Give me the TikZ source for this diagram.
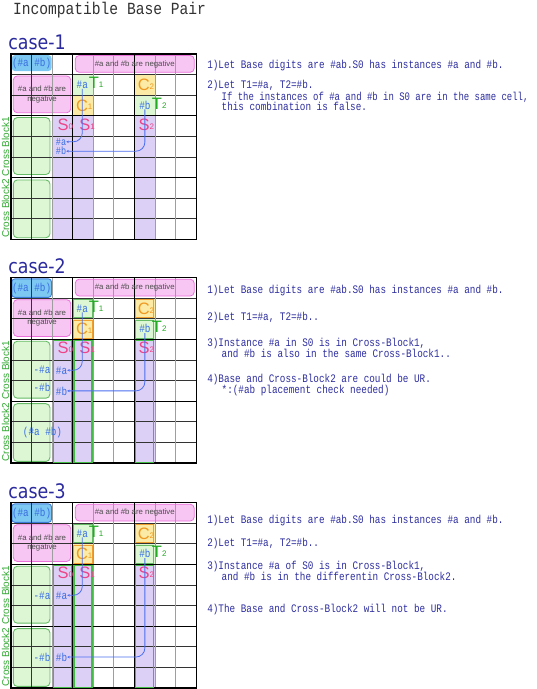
\documentclass[tikz,border=0pt]{standalone}
\usepackage{fontspec}
\usetikzlibrary{arrows.meta,calc}
\newfontfamily\gothic[FakeStretch=0.81]{Liberation Mono}
\newfontfamily\gothicn[FakeStretch=0.78]{Liberation Mono}
\newfontfamily\titlefont[FakeStretch=0.86]{Liberation Mono}
\newfontfamily\casefont[FakeStretch=0.87]{DejaVu Sans}
\newfontfamily\lsans{Liberation Sans}
\definecolor{lav}{HTML}{DCD0F7}
\definecolor{lgreen}{HTML}{DDF7D5}
\definecolor{gborder}{HTML}{66BB66}
\definecolor{colgreen}{HTML}{44BB44}
\definecolor{lyellow}{HTML}{FCEBA6}
\definecolor{oborder}{HTML}{F0A030}
\definecolor{lblue}{HTML}{7CC8F2}
\definecolor{bborder}{HTML}{3D7BD9}
\definecolor{lpink}{HTML}{F7C6F2}
\definecolor{pborder}{HTML}{EC70DC}
\definecolor{scol}{HTML}{EE4488}
\definecolor{ccol}{HTML}{EE9922}
\definecolor{tcol}{HTML}{22AA22}
\definecolor{hashblue}{HTML}{3A6EE0}
\definecolor{txtblue}{HTML}{2E2EA0}
\definecolor{cbgreen}{HTML}{33AA33}
\definecolor{linkblue}{HTML}{4A6EF0}
\definecolor{casecol}{HTML}{2B2B9F}
\def\cs{20.58}
\newcommand\bigsub[2]{#1{\fontsize{8}{8}\selectfont\raisebox{1.2pt}{#2}}}
\tikzset{
  lbl/.style={inner sep=0pt, outer sep=0pt},
  note/.style={lbl, anchor=base west, text=txtblue, font=\gothic\fontsize{11.5}{11.5}\selectfont},
  hash/.style={lbl, text=hashblue, font=\gothic\fontsize{11.5}{11.5}\selectfont},
  hashs/.style={hash, font=\gothic\fontsize{10.5}{10.5}\selectfont},
  big/.style={lbl, font=\lsans\fontsize{16.5}{16.5}\selectfont},
  negbox/.style={draw=pborder, fill=lpink, rounded corners=4pt, line width=0.8pt},
  negtxt/.style={lbl, text=black!70, font=\lsans\fontsize{7.8}{9.7}\selectfont, align=center},
  cbbox/.style={draw=gborder, fill=lgreen, rounded corners=4pt, line width=0.9pt},
  cblbl/.style={lbl, rotate=90, text=cbgreen, font=\lsans\fontsize{10}{10}\selectfont},
  caselbl/.style={lbl, anchor=base west, text=casecol, font=\casefont\fontsize{20}{20}\selectfont},
  hthin/.style={draw=black!80, line width=0.8pt},
  vthin/.style={draw=black!38, line width=1.1pt},
  thickline/.style={draw=black, line width=1.3pt},
  bluebox/.style={fill=lblue, rounded corners=3pt},
  gline/.style={},
  yline/.style={},
  colline/.style={},
  link/.style={draw=linkblue, line width=0.8pt, rounded corners=9pt, -{Stealth[length=2.6pt,width=2.4pt]}},
  bordered/.style={
    gline/.style={draw=gborder, line width=0.9pt},
    yline/.style={draw=oborder, line width=0.9pt},
    colline/.style={draw=colgreen, line width=1.3pt},
    bluebox/.style={fill=lblue, draw=bborder, line width=0.9pt, rounded corners=3pt}}
}
\newcommand\gridcommon[2]{%
  \foreach \k in {2,3,6} \fill[lav] ({\k*\cs},{3*\cs}) rectangle ({(\k+1)*\cs},{9*\cs});
  \fill[lgreen] ({3*\cs},{1*\cs}) rectangle ({4*\cs},{2*\cs});
  \fill[lyellow] ({3*\cs},{2*\cs}) rectangle ({4*\cs},{3*\cs});
  \fill[lyellow] ({6*\cs},{1*\cs}) rectangle ({7*\cs},{2*\cs});
  \fill[lgreen] ({6*\cs},{2*\cs}) rectangle ({7*\cs},{3*\cs});
  \path[bluebox] (0.8,1.2) rectangle (40.5,#2);
  \path[negbox] ({3*\cs+2.5},1.5) rectangle ({9*\cs-2},18.3);
  \path[negbox] (2.3,{\cs+1.4}) rectangle ({3*\cs-2},{3*\cs-3});
  \path[cbbox] (2.3,{3*\cs+1.8}) rectangle ({2*\cs-2.2},{6*\cs-3});
  \path[cbbox] (2.3,{6*\cs+2.5}) rectangle ({2*\cs-2.2},{9*\cs-1.5});
  \foreach \i in {1,2,4,5,7,8} \draw[hthin] (0,{\i*\cs}) -- ({9*\cs},{\i*\cs});
  \foreach \i in {2,4,5,7,8} \draw[vthin] ({\i*\cs},0) -- ({\i*\cs},{9*\cs});
  \draw[hthin] ({\cs},0) -- ({\cs},{9*\cs});
  \foreach \i in {3,6} {\draw[thickline] (0,{\i*\cs}) -- ({9*\cs},{\i*\cs});
    \draw[thickline] ({\i*\cs},0) -- ({\i*\cs},{9*\cs});}
  \draw[thickline] (0,0) rectangle ({9*\cs},{9*\cs});
  \path[gline] ({3*\cs+1.2},{\cs+1.2}) rectangle ({4*\cs-1.2},{2*\cs-1.2});
  \path[yline] ({3*\cs+1.2},{2*\cs+1.2}) rectangle ({4*\cs-1.2},{3*\cs-1.2});
  \path[yline] ({6*\cs+1.2},{\cs+1.2}) rectangle ({7*\cs-1.2},{2*\cs-1.2});
  \path[gline] ({6*\cs+1.2},{2*\cs+1.2}) rectangle ({7*\cs-1.2},{3*\cs-1.2});
  \foreach \k in {2,3,6} \path[colline] ({\k*\cs+1.3},{3*\cs+1}) rectangle ({(\k+1)*\cs-1.3},{9*\cs-0.6});
  \node[hash] (#1-bb) at (20.6,{(1.2+#2)/2}) {(\#a \#b)};
  \node[negtxt] (#1-n1) at ({6*\cs+0.3},10) {\#a and \#b are negative};
  \node[negtxt] (#1-n2) at (31,40.2) {\#a and \#b are\\negative};
  \node[hash, anchor=base west] (#1-ta) at ({3*\cs+4},{1.5*\cs+3.8}) {\#a};
  \node[big, text=tcol, anchor=base west] (#1-t1) at ([xshift=1pt]#1-ta.base east) {\bigsub{T}{1}};
  \node[big, text=ccol] (#1-c1) at ({3.5*\cs+1.2},{2.5*\cs}) {\bigsub{C}{1}};
  \node[big, text=ccol] (#1-c2) at ({6.5*\cs+1.2},{1.5*\cs}) {\bigsub{C}{2}};
  \node[hash, anchor=base west] (#1-tb) at ({6*\cs+4.8},{2.5*\cs+3.8}) {\#b};
  \node[big, text=tcol, anchor=base west] (#1-t2) at ([xshift=1.5pt]#1-tb.base east) {\bigsub{T}{2}};
  \node[big, text=scol] (#1-s0) at ({2.5*\cs+2.8},{3.5*\cs-1.5}) {\bigsub{S}{0}};
  \node[big, text=scol] (#1-s1) at ({3.5*\cs+4},{3.5*\cs-1.5}) {\bigsub{S}{1}};
  \node[big, text=scol] (#1-s2) at ({6.5*\cs+1.5},{3.5*\cs-1.5}) {\bigsub{S}{2}};
  \node[cblbl] (#1-cb1) at (-5.5,{4.5*\cs}) {Cross Block1};
  \node[cblbl] (#1-cb2) at (-5.5,{7.5*\cs}) {Cross Block2};
}
\begin{document}
\begin{tikzpicture}[x=1pt,y=-1pt]
\fill[white] (0,0) rectangle (537,689);
\useasboundingbox (0,0) rectangle (537,689);
\node[lbl, anchor=base west, text=black!80, font=\titlefont\fontsize{17}{17}\selectfont] (title) at (13,14) {Incompatible Base Pair};

% ---------- case 1
\node[caselbl] (case1) at (8.3,49.3) {case-1};
\begin{scope}[shift={(11,54)}]
  \gridcommon{a}{17}
  \node[hashs, anchor=west] (a-sa) at ({2*\cs+3.8},87.8) {\#a};
  \node[hashs, anchor=west] (a-sb) at ({2*\cs+3.8},97.2) {\#b};
  \draw[link] (a-ta.south) |- (a-sa.east);
  \draw[link] (a-tb.south) |- (a-sb.east);
\end{scope}
\node[note] (t11) at (207.3,68.6) {1)Let Base digits are \#ab.S0 has instances \#a and \#b.};
\node[note] (t12) at (207.3,88.6) {2)Let T1=\#a, T2=\#b.};
\node[note, font=\gothicn\fontsize{11.5}{11.5}\selectfont] (t13) at (221.7,100.3) {If the instances of \#a and \#b in S0 are in the same cell,};
\node[note] (t14) at (221.7,110.6) {this combination is false.};

% ---------- case 2
\node[caselbl] (case2) at (8.3,273) {case-2};
\begin{scope}[shift={(11,277.7)}, bordered]
  \gridcommon{b}{19.6}
  \node[hash] (b-ma) at (31,92) {-\#a};
  \node[hash] (b-mb) at (31,109.5) {-\#b};
  \node[hash] (b-ab) at (31.5,{7.5*\cs}) {(\#a \#b)};
  \node[hash, anchor=west] (b-sa) at ({2*\cs+3.8},{4.5*\cs}) {\#a};
  \node[hash, anchor=west] (b-sb) at ({2*\cs+3.8},{5.5*\cs}) {\#b};
  \draw[link] (b-ta.south) |- (b-sa.east);
  \draw[link] (b-tb.south) |- (b-sb.east);
\end{scope}
\node[note] (t21) at (207.3,293.6) {1)Let Base digits are \#ab.S0 has instances \#a and \#b.};
\node[note] (t22) at (207.3,320.3) {2)Let T1=\#a, T2=\#b..};
\node[note] (t23) at (207.3,346.3) {3)Instance \#a in S0 is in Cross-Block1,};
\node[note] (t24) at (221.7,357.6) {and \#b is also in the same Cross-Block1..};
\node[note] (t25) at (207.3,382.6) {4)Base and Cross-Block2 are could be UR.};
\node[note] (t26) at (221.7,393.6) {*:(\#ab placement check needed)};

% ---------- case 3
\node[caselbl] (case3) at (8.3,498) {case-3};
\begin{scope}[shift={(11,502.7)}, bordered]
  \gridcommon{c}{19.6}
  \node[hash] (c-ma) at (31,{4.5*\cs}) {-\#a};
  \node[hash] (c-mb) at (31,{7.5*\cs}) {-\#b};
  \node[hash, anchor=west] (c-sa) at ({2*\cs+3.8},{4.5*\cs}) {\#a};
  \node[hash, anchor=west] (c-sb) at ({2*\cs+3.8},{7.5*\cs}) {\#b};
  \draw[link] (c-ta.south) |- (c-sa.east);
  \draw[link] (c-tb.south) |- (c-sb.east);
\end{scope}
\node[note] (t31) at (207.3,523.6) {1)Let Base digits are \#ab.S0 has instances \#a and \#b.};
\node[note] (t32) at (207.3,546.9) {2)Let T1=\#a, T2=\#b..};
\node[note] (t33) at (207.3,569.6) {3)Instance \#a of S0 is in Cross-Block1,};
\node[note] (t34) at (221.7,580.3) {and \#b is in the differentin Cross-Block2.};
\node[note] (t35) at (207.3,612.6) {4)The Base and Cross-Block2 will not be UR.};
\end{tikzpicture}
\end{document}
